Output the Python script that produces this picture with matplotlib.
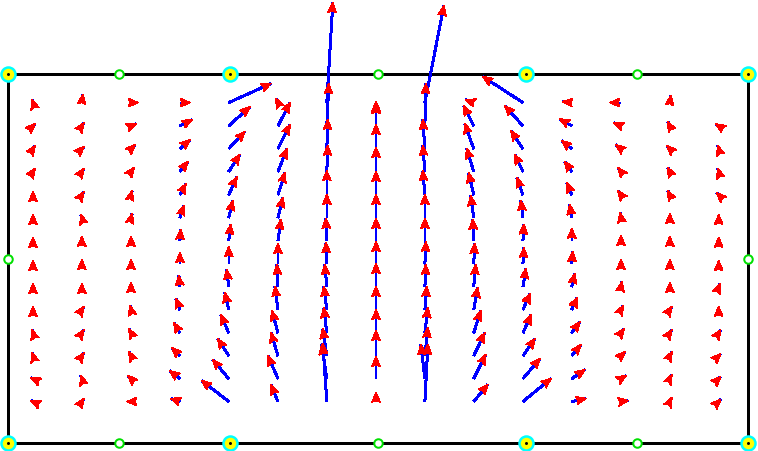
import numpy as np
import matplotlib
matplotlib.use('Agg')
import matplotlib.pyplot as plt
from matplotlib.collections import LineCollection, PolyCollection

# ---------------- data ----------------
# sampling grid (domain units: rectangle 0..2 x 0..1)
x_grid = [0.067, 0.199, 0.332, 0.464, 0.596, 0.729, 0.861, 0.994,
          1.126, 1.258, 1.391, 1.523, 1.656, 1.788, 1.920]
y_grid = [0.923, 0.860, 0.798, 0.736, 0.673, 0.611, 0.549, 0.486,
          0.424, 0.362, 0.299, 0.237, 0.175, 0.113]          # top -> bottom

# vector components, one list per column (rows top -> bottom),
# expressed in 1/370 domain units
U_cols = [
    [-1, 2, 2, 2, 0, 0, 0, 0, 0, 0, -1, -1, -2, -2],
    [1, 2, 2, 2, 2, -1, 0, 0, 0, 2, 2, 2, -1, 2],
    [7, 5, 4, 3, 1, 1, 0, 0, 0, -1, -2, -2, -3, -4],
    [10, 12, 10, 8, 6, 4, 1, 0, -1, -4, -6, -8, -10, -9],
    [42, 21, 16, 11, 8, 4, 2, 0, -2, -4, -8, -11, -16, -27],
    [-2, 12, 12, 9, 7, 5, 3, 0, -1, -3, -6, -7, -10, -7],
    [6, 2, 1, 1, 0, 0, -1, -1, -2, -3, -3, -4, -5, -4],
    [0, 0, 0, 0, 0, 0, 0, 0, 0, 0, 0, 0, 0, 0],
    [19, 1, -2, -2, -2, 0, 0, 1, 1, 2, 3, 3, -4, 3],
    [-8, -10, -9, -7, -5, -3, -1, 1, 2, 4, 7, 11, 12, 14],
    [-40, -18, -12, -8, -6, -2, 1, 1, 3, 7, 8, 12, 17, 28],
    [-9, -12, -10, -7, -5, -2, 0, 1, 3, 5, 8, 9, 13, 14],
    [-11, -7, -5, -3, -3, -1, 0, 0, 1, 2, 3, 4, 5, 7],
    [1, -2, -3, -2, -2, 0, 0, 0, 0, 2, 2, 2, 2, 2],
    [np.nan, -3, -1, -1, -2, 0, 0, 0, 1, 0, 2, 2, 2, 2],
]
V_cols = [
    [3, 2, 3, 3, 3, 3, 3, 3, 3, 3, 3, 3, 1, 1],
    [8, 3, 2, 3, 3, 3, 4, 4, 3, 3, 3, 3, 3, 3],
    [0, 2, 4, 4, 4, 4, 4, 4, 4, 4, 4, 4, 3, 0],
    [0, 6, 9, 10, 11, 12, 11, 11, 11, 11, 10, 8, 8, 3],
    [19, 19, 17, 17, 18, 17, 16, 17, 17, 17, 18, 17, 19, 21],
    [4, 23, 24, 23, 22, 20, 21, 20, 22, 23, 22, 23, 23, 17],
    [100, 42, 29, 26, 24, 23, 22, 21, 22, 23, 25, 27, 34, 58],
    [1, 22, 24, 24, 23, 23, 22, 22, 23, 23, 23, 25, 22, 9],
    [97, 42, 29, 26, 24, 23, 22, 22, 22, 23, 25, 28, 34, 57],
    [3, 20, 25, 23, 22, 22, 21, 20, 22, 22, 22, 23, 24, 17],
    [26, 20, 18, 17, 17, 17, 16, 16, 18, 16, 18, 17, 20, 23],
    [1, 7, 8, 10, 12, 13, 12, 12, 13, 12, 11, 11, 9, 3],
    [0, 3, 4, 4, 4, 5, 5, 4, 5, 4, 4, 4, 3, 1],
    [7, 4, 3, 4, 4, 4, 4, 4, 4, 3, 3, 4, 4, 4],
    [np.nan, 2, 3, 3, 2, 3, 3, 3, 3, 3, 3, 2, 2, 2],
]

# mesh nodes on the boundary
corner_x = [0.0, 0.6, 1.4, 2.0, 0.0, 0.6, 1.4, 2.0]
corner_y = [0.0, 0.0, 0.0, 0.0, 1.0, 1.0, 1.0, 1.0]
mid_x = [0.3, 1.0, 1.7, 0.3, 1.0, 1.7, 0.0, 2.0]
mid_y = [0.0, 0.0, 0.0, 1.0, 1.0, 1.0, 0.5, 0.5]
frame_x = [0, 2, 2, 0, 0]
frame_y = [0, 0, 1, 1, 0]

# ---------------- drawing ----------------
PX = 370.0          # pixels per domain unit
DPI = 100
pt = 72.0 / DPI     # points per pixel

fig = plt.figure(figsize=(7.58, 4.51), dpi=DPI)
ax = fig.add_axes([0, 0, 1, 1])
ax.set_xlim(-8.2 / 370.05, (758 - 8.2) / 370.05)
ax.set_ylim(-(451 - 443.3) / 369.1, 1 + 74.2 / 369.1)
ax.axis('off')

# frame
ax.plot(frame_x, frame_y, color='black', lw=3 * pt, zorder=1,
        solid_joinstyle='miter', antialiased=False)

X, Y = np.meshgrid(np.array(x_grid), np.array(y_grid))
U = np.array(U_cols, dtype=float).T / PX
V = np.array(V_cols, dtype=float).T / PX

segs, heads = [], []
L = 9.5 / PX
W = 8.0 / PX
for x0, y0, u, v in zip(X.ravel(), Y.ravel(), U.ravel(), V.ravel()):
    if np.isnan(u) or np.isnan(v):
        continue
    tip = np.array([x0 + u, y0 + v])
    segs.append([(x0, y0), tuple(tip)])
    m = np.hypot(u, v)
    if m == 0:
        continue
    d = np.array([u, v]) / m
    n = np.array([-d[1], d[0]])
    heads.append([tip,
                  tip - L * d + 0.5 * W * n,
                  tip - 0.82 * L * d,
                  tip - L * d - 0.5 * W * n])

ax.add_collection(LineCollection(segs, colors='#0000ff', linewidths=2 * pt,
                                 zorder=3, antialiased=False))
ax.add_collection(PolyCollection(heads, facecolors='#ff0000',
                                 edgecolors='#ff0000', linewidths=0.6 * pt,
                                 zorder=4, antialiased=False))

# nodes
ax.plot(corner_x, corner_y, ls='none', marker='o', ms=14 * pt,
        mfc='#ffff00', mec='#00ffff', mew=2.5 * pt, zorder=5)
ax.plot(corner_x, corner_y, ls='none', marker='o', ms=3 * pt,
        mfc='black', mec='black', mew=0, zorder=6)
ax.plot(mid_x, mid_y, ls='none', marker='o', ms=8.5 * pt,
        mfc='white', mec='#00e000', mew=2 * pt, zorder=5)

fig.savefig('out.png', dpi=DPI, facecolor='white')
